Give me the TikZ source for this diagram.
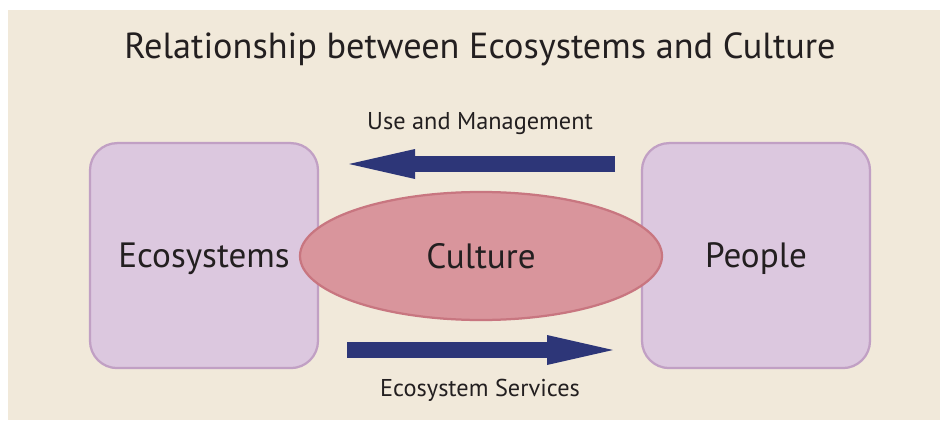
\documentclass[tikz,border=0pt]{standalone}
\usepackage{fontspec}
\setmainfont{PT Sans}
\usetikzlibrary{arrows.meta,shapes.geometric}

\begin{document}
\begin{tikzpicture}

    % Colors
    \definecolor{backarea}{RGB}{241,233,218}
    \definecolor{boxarea}{RGB}{220,200,223}
    \definecolor{boxline}{RGB}{193,160,196}
    \definecolor{cultarea}{RGB}{217,149,156}
    \definecolor{cultline}{RGB}{200,118,128}
    \definecolor{arrowblue}{RGB}{45,54,120}
    \definecolor{textdark}{RGB}{35,31,32}

    \tikzset{
        groupbox/.style={draw=boxline, fill=boxarea, line width=1.6pt, rounded corners=0.68cm,
            minimum width=5.7cm, minimum height=5.625cm, text=textdark,
            text height=17.5pt, text depth=0pt,
            font=\fontsize{25}{30}\selectfont},
        bigarrow/.style={arrowblue, line width=0.4cm,
            -{Triangle[length=1.65cm, width=0.75cm, line width=0pt]}},
        label/.style={text=textdark, font=\fontsize{17.3}{20}\selectfont}
    }

    % Background
    \useasboundingbox (0,0) rectangle (23.5,10.5);
    \fill[backarea] (0.2,0) rectangle (23.5,10.25);

    % Nodes
    \node[groupbox] (eco) at (5.1,4.11) {Ecosystems};
    \node[groupbox] (people) at (18.9,4.11) {People};
    \node[ellipse, draw=cultline, fill=cultarea, line width=1.6pt, inner sep=0pt,
        minimum width=9.05cm, minimum height=3.2cm, text=textdark,
        text height=17.5pt, text depth=0pt,
        font=\fontsize{25}{30}\selectfont] (culture) at (12.025,4.1) {Culture};

    \node[text=textdark, font=\fontsize{25.8}{30}\selectfont] (title) at (12,9.27)
        {Relationship between Ecosystems and Culture};
    \node[label] (use) at (12,7.4) {Use and Management};
    \node[label] (services) at (12,0.75) {Ecosystem Services};

    % Arrows
    \coordinate (use start) at (15.375,6.4);
    \coordinate (use end) at (8.725,6.4);
    \coordinate (serv start) at (8.675,1.75);
    \coordinate (serv end) at (15.325,1.75);
    \draw[bigarrow] (use start) -- (use end);
    \draw[bigarrow] (serv start) -- (serv end);

\end{tikzpicture}
\end{document}
